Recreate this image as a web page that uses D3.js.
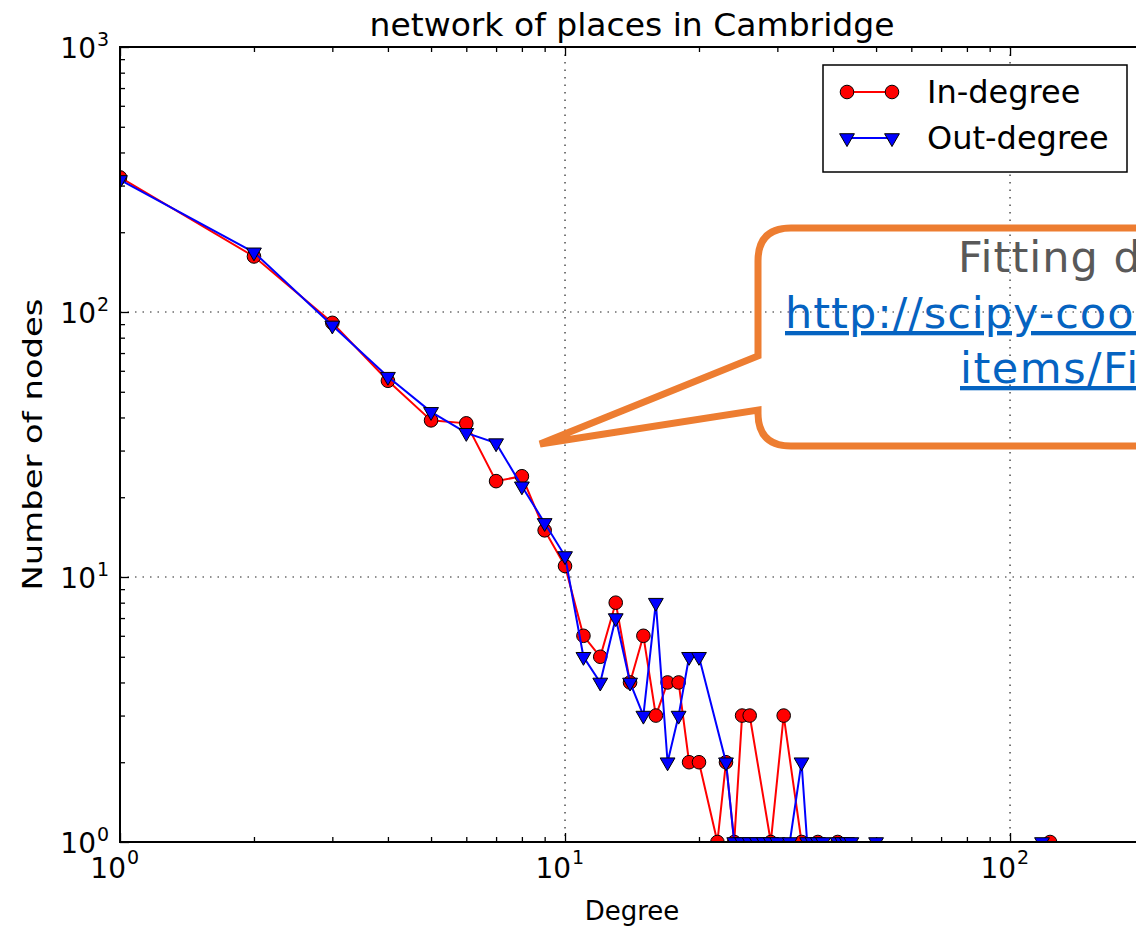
<!DOCTYPE html>
<html>
<head>
<meta charset="utf-8">
<script src="https://cdn.jsdelivr.net/npm/d3@7"></script>
<style>
  html, body { margin: 0; padding: 0; background: #fff; }
  svg { display: block; }
</style>
</head>
<body>
<svg id="chart" width="1136" height="929"></svg>
<script>
// ---------- data ----------
const inDegree  = [1,2,3,4,5,6,7,8,9,10,11,12,13,14,15,16,17,18,19,20,22,23,24,25,26,29,31,34,37,41,123];
const inCount   = [322,162,91,55,39,38,23,24,15,11,6,5,8,4,6,3,4,4,2,2,1,2,1,3,3,1,3,1,1,1,1];
const outDegree = [1,2,3,4,5,6,7,8,9,10,11,12,13,14,15,16,17,18,19,20,23,24,25,26,27,28,29,30,32,34,35,36,37,38,41,42,43,44,50,118];
const outCount  = [315,168,89,57,42,35,32,22,16,12,5,4,7,4,3,8,2,3,5,5,2,1,1,1,1,1,1,1,1,2,1,1,1,1,1,1,1,1,1,1];
const xMajorTicks = [1, 10, 100];
const yMajorTicks = [1, 10, 100, 1000];
const seriesNames = ["In-degree", "Out-degree"];
const titleText = "network of places in Cambridge";
const xLabel = "Degree";
const yLabel = "Number of nodes";
const calloutLines = ["Fitting data", "http://scipy-cookbook.readthedocs.io/", "items/FittingData.html"];

// ---------- layout ----------
const svg = d3.select("#chart");
const L = 120, R = 1144, T = 47, B = 842;
const x = d3.scaleLog().domain([1, 200]).range([L, R]);
const y = d3.scaleLog().domain([1, 1000]).range([B, T]);
const font = "'DejaVu Sans', sans-serif";

// minor ticks
function minorTicks(domain) {
  const out = [];
  for (let e = 0; e < 4; e++) for (let k = 2; k <= 9; k++) {
    const v = k * Math.pow(10, e);
    if (v > domain[0] && v < domain[1]) out.push(v);
  }
  return out;
}
const xMinor = minorTicks(x.domain());
const yMinor = minorTicks(y.domain());

svg.append("defs").append("clipPath").attr("id", "plotclip")
  .append("rect").attr("x", L).attr("y", T).attr("width", R - L).attr("height", B - T);

// grid
const grid = svg.append("g").attr("stroke", "#222").attr("stroke-width", 1.2)
  .attr("stroke-dasharray", "1.5,6");
xMajorTicks.filter(v => v > 1 && v < 200).forEach(v => {
  grid.append("line").attr("x1", x(v)).attr("x2", x(v)).attr("y1", T).attr("y2", B);
});
yMajorTicks.filter(v => v > 1 && v < 1000).forEach(v => {
  grid.append("line").attr("x1", L).attr("x2", R).attr("y1", y(v)).attr("y2", y(v));
});

// axes ticks (inward)
function styleAxis(g) {
  g.select(".domain").remove();
  g.selectAll(".tick line").attr("stroke", "#000").attr("stroke-width", 1.3);
  g.selectAll(".tick text").remove();
}
svg.append("g").attr("transform", `translate(0,${B})`)
  .call(d3.axisBottom(x).tickValues(xMajorTicks).tickSize(-9)).call(styleAxis);
svg.append("g").attr("transform", `translate(0,${B})`)
  .call(d3.axisBottom(x).tickValues(xMinor).tickSize(-5)).call(styleAxis);
svg.append("g").attr("transform", `translate(0,${T})`)
  .call(d3.axisTop(x).tickValues(xMajorTicks).tickSize(-9)).call(styleAxis);
svg.append("g").attr("transform", `translate(0,${T})`)
  .call(d3.axisTop(x).tickValues(xMinor).tickSize(-5)).call(styleAxis);
svg.append("g").attr("transform", `translate(${L},0)`)
  .call(d3.axisLeft(y).tickValues(yMajorTicks).tickSize(-9)).call(styleAxis);
svg.append("g").attr("transform", `translate(${L},0)`)
  .call(d3.axisLeft(y).tickValues(yMinor).tickSize(-5)).call(styleAxis);

// data
const plot = svg.append("g").attr("clip-path", "url(#plotclip)");
const inData = inDegree.map((d, i) => [d, inCount[i]]);
const outData = outDegree.map((d, i) => [d, outCount[i]]);
const line = d3.line().x(d => x(d[0])).y(d => y(d[1]));
const tri = d3.symbol().type(d3.symbolTriangle).size(95);

plot.append("path").datum(inData).attr("d", line)
  .attr("fill", "none").attr("stroke", "#ff0000").attr("stroke-width", 2);
plot.selectAll("circle.in").data(inData).join("circle").attr("class", "in")
  .attr("cx", d => x(d[0])).attr("cy", d => y(d[1])).attr("r", 6.8)
  .attr("fill", "#ff0000").attr("stroke", "#000").attr("stroke-width", 1);

plot.append("path").datum(outData).attr("d", line)
  .attr("fill", "none").attr("stroke", "#0000ff").attr("stroke-width", 2);
plot.selectAll("path.out").data(outData).join("path").attr("class", "out")
  .attr("d", tri)
  .attr("transform", d => `translate(${x(d[0])},${y(d[1])}) rotate(180)`)
  .attr("fill", "#0000ff").attr("stroke", "#000").attr("stroke-width", 1);

// spines
svg.append("g").attr("stroke", "#000").attr("stroke-width", 2).attr("fill", "none")
  .append("rect").attr("x", L).attr("y", T).attr("width", R - L).attr("height", B - T);

// tick labels (10^n)
xMajorTicks.forEach(v => {
  const e = Math.round(Math.log10(v));
  const g = svg.append("g").attr("font-family", font).attr("fill", "#000");
  g.append("text").attr("x", x(v) + 6).attr("y", B + 36).attr("text-anchor", "end")
    .attr("font-size", 28).text("10");
  g.append("text").attr("x", x(v) + 7).attr("y", B + 22).attr("text-anchor", "start")
    .attr("font-size", 19).text(String(e));
});
yMajorTicks.forEach(v => {
  const e = Math.round(Math.log10(v));
  const g = svg.append("g").attr("font-family", font).attr("fill", "#000");
  g.append("text").attr("x", L - 24).attr("y", y(v) + 11).attr("text-anchor", "end")
    .attr("font-size", 28).text("10");
  g.append("text").attr("x", L - 23).attr("y", y(v) - 1).attr("text-anchor", "start")
    .attr("font-size", 19).text(String(e));
});

// titles
svg.append("text").attr("x", (L + R) / 2).attr("y", 36).attr("text-anchor", "middle")
  .attr("font-family", font).attr("font-size", 32)
  .attr("textLength", 525).attr("lengthAdjust", "spacingAndGlyphs").text(titleText);
svg.append("text").attr("x", (L + R) / 2).attr("y", 920).attr("text-anchor", "middle")
  .attr("font-family", font).attr("font-size", 26).text(xLabel);
svg.append("text").attr("transform", `translate(42,${(T + B) / 2}) rotate(-90)`)
  .attr("text-anchor", "middle").attr("font-family", font).attr("font-size", 27)
  .attr("textLength", 292).attr("lengthAdjust", "spacingAndGlyphs").text(yLabel);

// legend
const lg = svg.append("g");
lg.append("rect").attr("x", 823).attr("y", 65).attr("width", 304).attr("height", 107)
  .attr("fill", "#fff").attr("stroke", "#000").attr("stroke-width", 1.5);
const legY = [92, 138];
lg.append("line").attr("x1", 847).attr("x2", 892).attr("y1", legY[0]).attr("y2", legY[0])
  .attr("stroke", "#ff0000").attr("stroke-width", 2);
[847, 892].forEach(cx => lg.append("circle").attr("cx", cx).attr("cy", legY[0]).attr("r", 6.8)
  .attr("fill", "#ff0000").attr("stroke", "#000").attr("stroke-width", 1));
lg.append("line").attr("x1", 847).attr("x2", 892).attr("y1", legY[1]).attr("y2", legY[1])
  .attr("stroke", "#0000ff").attr("stroke-width", 2);
[847, 892].forEach(cx => lg.append("path").attr("d", tri)
  .attr("transform", `translate(${cx},${legY[1]}) rotate(180)`)
  .attr("fill", "#0000ff").attr("stroke", "#000").attr("stroke-width", 1));
seriesNames.forEach((s, i) => {
  lg.append("text").attr("x", 927).attr("y", legY[i] + 11).attr("font-family", font)
    .attr("font-size", 32).text(s);
});

// callout
const co = svg.append("g");
co.append("path")
  .attr("d", "M1300,228 H791 Q758,228 758,261 V356 L540,444 L758,410 V413 Q758,446 791,446 H1300")
  .attr("fill", "none").attr("stroke", "#ED7D31").attr("stroke-width", 7).attr("stroke-linejoin", "miter");
const cf = "'DejaVu Sans', sans-serif";
co.append("text").attr("x", 958).attr("y", 272).attr("font-family", cf).attr("font-size", 43)
  .attr("letter-spacing", 1).attr("fill", "#595959").text(calloutLines[0]);
co.append("text").attr("x", 785).attr("y", 328).attr("font-family", cf).attr("font-size", 43)
  .attr("letter-spacing", 1).attr("fill", "#0563C1").attr("text-decoration", "underline").text(calloutLines[1]);
co.append("text").attr("x", 960).attr("y", 383).attr("font-family", cf).attr("font-size", 43)
  .attr("letter-spacing", 1.5).attr("fill", "#0563C1").attr("text-decoration", "underline").text(calloutLines[2]);
</script>
</body>
</html>
